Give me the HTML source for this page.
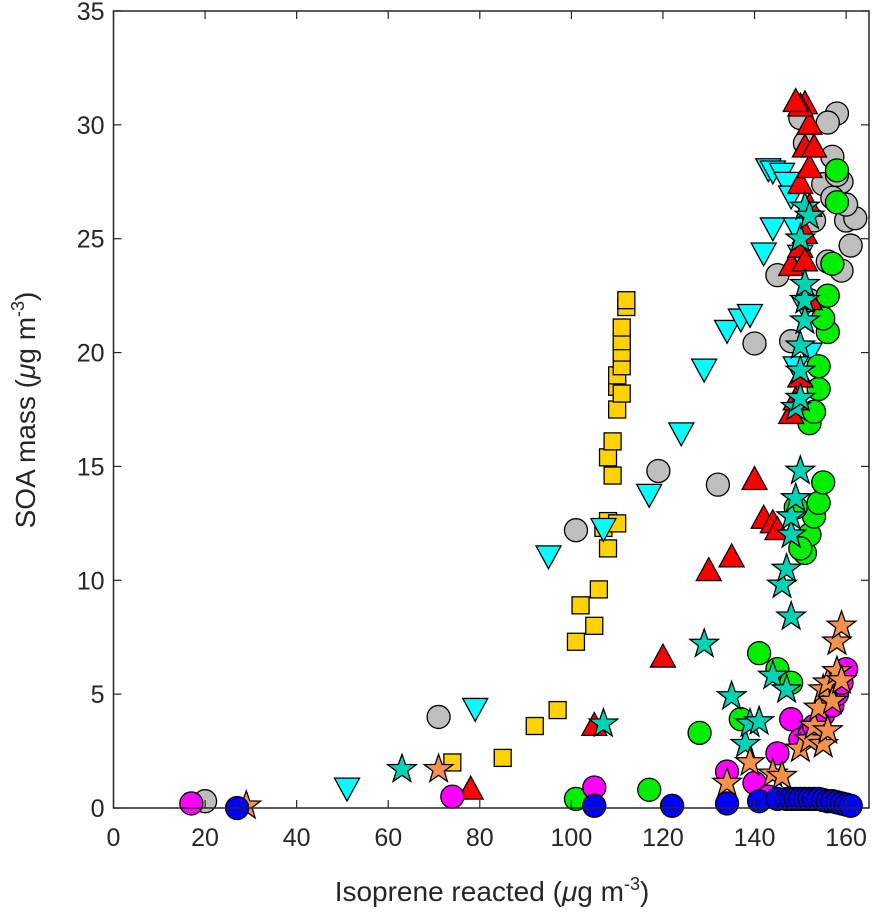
<!DOCTYPE html>
<html><head><meta charset="utf-8"><style>
html,body{margin:0;padding:0;background:#fff;}
svg{display:block;font-family:"Liberation Sans",Arial,sans-serif;}
</style></head><body>
<svg id="chart" width="876" height="919" viewBox="0 0 876 919" xmlns="http://www.w3.org/2000/svg">
<g id="marks"></g>
<g id="axes"></g>
<text x="492" y="901" font-size="28" text-anchor="middle" fill="#262626">Isoprene reacted (<tspan font-style="italic">μ</tspan>g m<tspan dy="-11" font-size="18">-3</tspan><tspan dy="11">)</tspan></text>
<text transform="translate(35,410) rotate(-90)" font-size="28" text-anchor="middle" fill="#262626">SOA mass (<tspan font-style="italic">μ</tspan>g m<tspan dy="-11" font-size="18">-3</tspan><tspan dy="11">)</tspan></text>
</svg>
<script>
const xTicks=[0,20,40,60,80,100,120,140,160];
const yTicks=[0,5,10,15,20,25,30,35];
const blueX=[27,105,122,134,141,145,147,148,149,150,151,152,153,154,155,156,157,158,159,160,161];
const blueY=[0,0.1,0.1,0.2,0.3,0.4,0.4,0.4,0.4,0.4,0.4,0.4,0.4,0.4,0.35,0.3,0.3,0.25,0.2,0.15,0.1];
const magentaX=[17,74,105,134,140,143,145,148,150,152,153,155,157,158,159,160];
const magentaY=[0.2,0.5,0.9,1.6,1.1,0.5,2.4,3.9,3.0,3.2,3.6,4.1,4.5,5.0,5.5,6.1];
const grayX=[20,71,101,119,132,140,148,145,152,153,156,157,158,159,160,161,159,162,160,150,151,155,156,158,157];
const grayY=[0.3,4.0,12.2,14.8,14.2,20.4,20.5,23.4,22.3,25.8,24.0,28.6,30.5,27.5,25.8,24.7,23.6,25.9,26.5,30.3,29.2,27.4,30.1,27.8,26.8];
const greenX=[101,117,128,137,141,145,148,151,152,153,154,155,152,153,154,154,156,155,156,157,158,158,150,149];
const greenY=[0.4,0.8,3.3,3.9,6.8,6.1,5.5,11.2,12.0,12.8,13.4,14.3,16.9,17.4,18.4,19.4,20.9,21.5,22.5,23.9,26.6,28.0,11.4,13.2];
const redX=[78,105,120,130,135,140,142,144,145,148,149,150,148,150,151,152,150,152,151,152,151,150,149,153,151,152];
const redY=[0.8,3.6,6.6,10.4,11.0,14.4,12.7,12.5,12.2,17.3,17.9,18.9,23.8,24.6,25.2,26.4,27.4,28.1,29.0,30.0,30.9,30.8,31.0,29.0,24.0,22.3];
const cyanX=[51,79,95,107,117,124,129,134,137,139,142,144,143,144,146,147,148,149,150,151,152,149];
const cyanY=[0.9,4.4,11.1,12.3,13.8,16.5,19.3,21.0,21.5,21.7,24.4,25.5,28.1,28.0,27.9,27.5,26.9,25.5,24.3,22.0,20.0,19.4];
const goldX=[74,85,92,97,101,102,105,106,107,108,108,108,109,109,110,110,110,110,111,111,111,111,112,112,111];
const goldY=[2.0,2.2,3.6,4.3,7.3,8.9,8.0,9.6,12.3,12.6,11.4,15.4,14.6,16.1,12.5,17.5,18.5,19.0,19.4,20.0,20.5,21.1,22.0,22.3,18.2];
const tealX=[63,107,129,135,138,139,141,144,147,146,147,148,148,148,149,150,149,150,150,150,151,151,151,150,151,152];
const tealY=[1.7,3.7,7.2,4.9,2.8,3.7,3.8,5.8,5.2,9.8,10.5,8.4,12.0,12.8,13.6,14.8,17.6,18.0,19.2,20.3,21.4,22.3,23.0,25.0,26.4,26.0];
const orangeX=[29,71,134,139,144,146,150,152,153,154,155,156,157,158,159,158,159,155,156];
const orangeY=[0.1,1.7,1.1,2.0,1.5,1.4,2.6,3.0,3.6,4.4,5.2,5.5,4.7,6.0,5.6,7.3,8.0,2.8,3.4];

const L=113.5,R=869,T=11,B=808,XMAX=165,YMAX=35;
function sx(v){return L+v*(R-L)/XMAX;}
function sy(v){return B-v*(B-T)/YMAX;}
const NS="http://www.w3.org/2000/svg";
const marks=document.getElementById('marks'),axes=document.getElementById('axes');
function mk(tag,attrs,parent){const e=document.createElementNS(NS,tag);for(const k in attrs)e.setAttribute(k,attrs[k]);parent.appendChild(e);return e;}
function circle(x,y,c){return mk('circle',{cx:x,cy:y,r:11.5,fill:c,stroke:'#000','stroke-width':1.3},marks);}
function triUp(x,y,c){const h=12.5;return mk('polygon',{points:`${x},${y-h-1} ${x-h},${y+h*0.75} ${x+h},${y+h*0.75}`,fill:c,stroke:'#000','stroke-width':1.3},marks);}
function triDown(x,y,c){const h=12.5;return mk('polygon',{points:`${x},${y+h+1} ${x-h},${y-h*0.75} ${x+h},${y-h*0.75}`,fill:c,stroke:'#000','stroke-width':1.3},marks);}
function square(x,y,c){return mk('rect',{x:x-8.5,y:y-8.5,width:17,height:17,fill:c,stroke:'#000','stroke-width':1.3},marks);}
function star(x,y,c){let p=[];for(let i=0;i<10;i++){const r=i%2?6:15;const a=-Math.PI/2+i*Math.PI/5;p.push((x+r*Math.cos(a)).toFixed(1)+','+(y+r*Math.sin(a)).toFixed(1));}return mk('polygon',{points:p.join(' '),fill:c,stroke:'#000','stroke-width':1.3},marks);}
function series(xs,ys,fn,c,name){xs.forEach((v,i)=>{const e=fn(sx(v),sy(ys[i]),c);

});}
series(goldX,goldY,square,'#FFD200','point-gold-square');
series(cyanX,cyanY,triDown,'#00FFFF','point-cyan-triangle');
series(grayX,grayY,circle,'#BEBEBE','point-gray-circle');
series(greenX,greenY,circle,'#00EE00','point-green-circle');
series(redX,redY,triUp,'#FF0000','point-red-triangle');
series(tealX,tealY,star,'#00D2B4','point-teal-star');
series(magentaX,magentaY,circle,'#FF00FF','point-magenta-circle');
series(orangeX,orangeY,star,'#F5914B','point-orange-star');
series(blueX,blueY,circle,'#0000FF','point-blue-circle');

const box=mk('rect',{x:L,y:T,width:R-L,height:B-T,fill:'none',stroke:'#262626','stroke-width':1.5},axes);


xTicks.forEach(v=>{const x=sx(v);
mk('line',{x1:x,x2:x,y1:B,y2:B-8,stroke:'#262626','stroke-width':1.2},axes);
mk('line',{x1:x,x2:x,y1:T,y2:T+8,stroke:'#262626','stroke-width':1.2},axes);
const t=mk('text',{x:x,y:B+38,'font-size':25,'text-anchor':'middle',fill:'#262626'},axes);t.textContent=v;

});
yTicks.forEach(v=>{const y=sy(v);
mk('line',{x1:L,x2:L+8,y1:y,y2:y,stroke:'#262626','stroke-width':1.2},axes);
mk('line',{x1:R,x2:R-8,y1:y,y2:y,stroke:'#262626','stroke-width':1.2},axes);
const t=mk('text',{x:L-9,y:y+9,'font-size':25,'text-anchor':'end',fill:'#262626'},axes);t.textContent=v;

});
</script>
</body></html>
